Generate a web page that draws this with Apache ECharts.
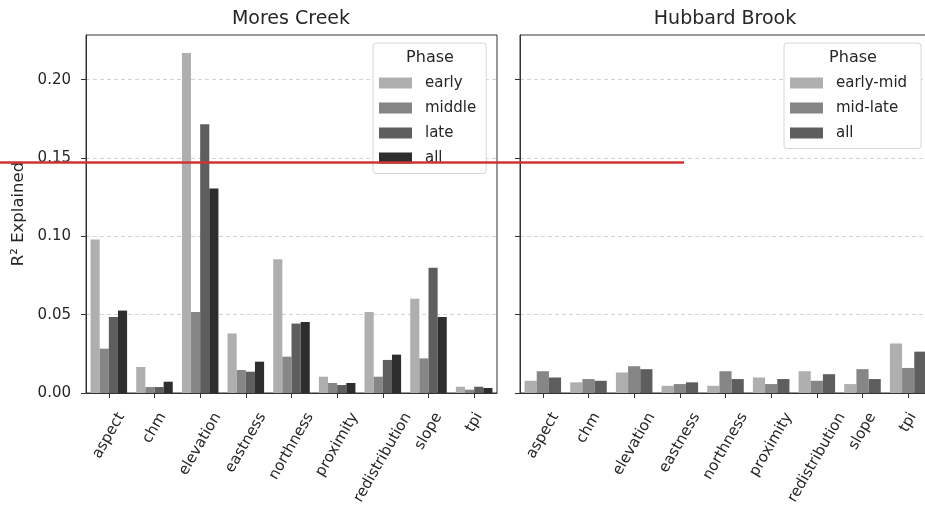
<!DOCTYPE html>
<html>
<head>
<meta charset="utf-8">
<script src="https://cdn.jsdelivr.net/npm/echarts@6/dist/echarts.min.js"></script>
<style>
  html, body { margin: 0; padding: 0; background: #ffffff; }
  #chart { width: 925px; height: 514px; }
</style>
</head>
<body>
<div id="chart"></div>
<script>
// Terrain predictors and variance explained per snow phase
const categories = ['aspect', 'chm', 'elevation', 'eastness', 'northness', 'proximity', 'redistribution', 'slope', 'tpi'];

// Mores Creek
const moresPhases = ['early', 'middle', 'late', 'all'];
const moresEarly  = [0.098, 0.0166, 0.217, 0.038, 0.0853, 0.0104, 0.0517, 0.0602, 0.0040];
const moresMiddle = [0.0283, 0.0038, 0.0517, 0.0147, 0.0232, 0.0064, 0.0104, 0.0221, 0.0021];
const moresLate   = [0.0485, 0.0038, 0.1715, 0.0136, 0.0443, 0.0051, 0.0211, 0.0800, 0.0040];
const moresAll    = [0.0526, 0.0072, 0.1306, 0.0200, 0.0453, 0.0064, 0.0245, 0.0485, 0.0032];

// Hubbard Brook
const hubbardPhases = ['early-mid', 'mid-late', 'all'];
const hubbardEarlyMid = [0.0078, 0.0068, 0.0131, 0.0046, 0.0046, 0.0099, 0.0139, 0.0057, 0.0316];
const hubbardMidLate  = [0.0139, 0.0089, 0.0171, 0.0057, 0.0139, 0.0057, 0.0078, 0.0152, 0.0160];
const hubbardAll      = [0.0099, 0.0078, 0.0152, 0.0068, 0.0089, 0.0089, 0.0120, 0.0089, 0.0264];

const yTicks = [0, 0.05, 0.10, 0.15, 0.20];
const yMax = 0.2285;

const moresColors = ['#afafaf', '#868686', '#5e5e5e', '#2e2e2e'];
const hubbardColors = ['#afafaf', '#868686', '#5e5e5e'];

const FONT = '"DejaVu Sans", sans-serif';
const TEXT = '#262626';
const SPINE = '#333333';
const TICK_SIZE = 15;

// Rotated tick labels sit centred under their tick, hanging below the axis;
// per-label rich padding moves ECharts' end-anchored text into that spot.
const measureCtx = document.createElement('canvas').getContext('2d');
measureCtx.font = TICK_SIZE + 'px "DejaVu Sans"';
const ROT = 60 * Math.PI / 180;
const DROP = 16;
const labelRich = {};
categories.forEach(function (c, i) {
  const L = measureCtx.measureText(c).width;
  const s = Math.sin(ROT), co = Math.cos(ROT);
  const pr = Math.max(0, s * DROP - (L / 2) * co * co);
  const pt = L * s * co + 2 * co * DROP;
  labelRich['p' + i] = {
    fontSize: TICK_SIZE, fontFamily: FONT, color: TEXT,
    padding: [pt, pr, 0, 0]
  };
});

const grids = [
  { left: 86, top: 35, width: 411, height: 358 },
  { left: 520, top: 35, width: 411, height: 358 }
];

function makeXAxis(gridIndex) {
  return {
    type: 'category',
    gridIndex: gridIndex,
    data: categories,
    axisLine: { show: true, lineStyle: { color: SPINE, width: 1 } },
    axisTick: { show: true, alignWithLabel: true, length: 5, lineStyle: { color: SPINE } },
    axisLabel: {
      interval: 0, rotate: 60, margin: 5, hideOverlap: false,
      fontSize: TICK_SIZE, fontFamily: FONT, color: TEXT,
      formatter: function (v, i) { return '{p' + i + '|' + v + '}'; },
      rich: labelRich
    },
    splitLine: { show: false }
  };
}

function makeYAxis(gridIndex, showLabels) {
  const axis = {
    type: 'value',
    gridIndex: gridIndex,
    min: 0, max: yMax, interval: 0.05,
    axisLine: { show: true, lineStyle: { color: SPINE, width: 1 } },
    axisTick: { show: true, length: 5, lineStyle: { color: SPINE }, customValues: yTicks },
    axisLabel: {
      show: showLabels, margin: 15, fontSize: TICK_SIZE, fontFamily: FONT, color: TEXT,
      customValues: yTicks,
      formatter: function (v) { return v.toFixed(2); }
    },
    splitLine: { show: true, lineStyle: { color: '#d4d4d4', type: [4, 3], width: 1 } }
  };
  if (showLabels) {
    axis.name = 'R² Explained';
    axis.nameLocation = 'middle';
    axis.nameGap = 59;
    axis.nameTextStyle = { fontSize: 16.5, fontFamily: FONT, color: TEXT };
  }
  return axis;
}

function barSeries(name, data, color, axisIndex, width) {
  return {
    type: 'bar', name: name, data: data,
    xAxisIndex: axisIndex, yAxisIndex: axisIndex,
    barWidth: width, barGap: '0%',
    itemStyle: { color: color },
    emphasis: { disabled: true },
    animation: false
  };
}

const moresData = [moresEarly, moresMiddle, moresLate, moresAll];
const hubbardData = [hubbardEarlyMid, hubbardMidLate, hubbardAll];

const series = [];
moresPhases.forEach(function (p, i) { series.push(barSeries(p, moresData[i], moresColors[i], 0, '20%')); });
hubbardPhases.forEach(function (p, i) { series.push(barSeries(p, hubbardData[i], hubbardColors[i], 1, '26.667%')); });

function legendBlock(names, colors, left, rightPad) {
  return {
    orient: 'vertical', left: left, top: 43,
    data: names.map(function (n, i) { return { name: n, itemStyle: { color: colors[i] } }; }),
    icon: 'rect', itemWidth: 33, itemHeight: 11, itemGap: 10,
    padding: [32.5, rightPad, 8, 6],
    backgroundColor: '#ffffff', borderColor: '#d6d6d6', borderWidth: 1, borderRadius: 3,
    selectedMode: false,
    textStyle: { fontSize: 15, fontFamily: FONT, color: TEXT, lineHeight: 15, padding: [0, 0, 0, 8] }
  };
}

const titleStyle = { fontSize: 19, fontWeight: 'normal', fontFamily: FONT, color: TEXT };
const legendTitleStyle = { fontSize: 16, fontWeight: 'normal', fontFamily: FONT, color: TEXT };

const option = {
  backgroundColor: '#ffffff',
  animation: false,
  title: [
    { text: 'Mores Creek', left: 291, top: 10, textAlign: 'center', textStyle: titleStyle, padding: 0 },
    { text: 'Hubbard Brook', left: 725, top: 10, textAlign: 'center', textStyle: titleStyle, padding: 0 },
    { text: 'Phase', left: 430, top: 50, textAlign: 'center', textStyle: legendTitleStyle, padding: 0, z: 10 },
    { text: 'Phase', left: 853, top: 50, textAlign: 'center', textStyle: legendTitleStyle, padding: 0, z: 10 }
  ],
  grid: grids.map(function (g) {
    return Object.assign({
      show: true, borderColor: SPINE, borderWidth: 1, backgroundColor: 'transparent',
      outerBoundsMode: 'none', containLabel: false
    }, g);
  }),
  legend: [
    legendBlock(moresPhases, moresColors, 373, 10),
    legendBlock(hubbardPhases, hubbardColors, 784, 14)
  ],
  xAxis: [makeXAxis(0), makeXAxis(1)],
  yAxis: [makeYAxis(0, true), makeYAxis(1, false)],
  series: series,
  graphic: [
    {
      type: 'line', z: 100,
      shape: { x1: 0, y1: 162.5, x2: 684, y2: 162.5 },
      style: { stroke: '#cd3434', lineWidth: 2.5 }
    }
  ]
};

const chart = echarts.init(document.getElementById('chart'), null, { renderer: 'canvas' });
chart.setOption(option);
</script>
</body>
</html>
